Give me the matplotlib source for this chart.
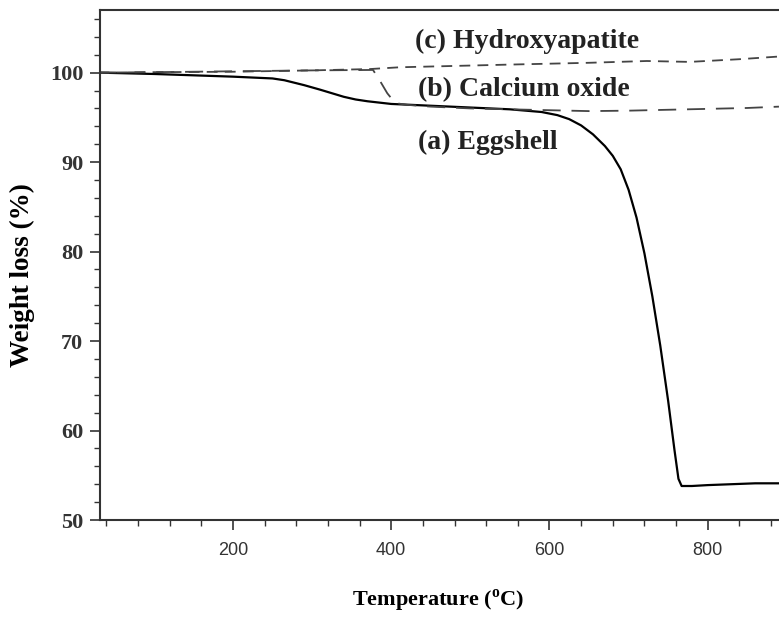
import matplotlib
matplotlib.use("Agg")
import matplotlib.pyplot as plt
from matplotlib.ticker import MultipleLocator, FixedLocator

plt.rcParams['mathtext.fontset'] = 'custom'
plt.rcParams['mathtext.rm'] = 'Liberation Serif:bold'
plt.rcParams['mathtext.bf'] = 'Liberation Serif:bold'

# TGA curves
egg_t = [30, 100, 150, 200, 250, 265, 290, 310, 325, 340, 355, 370, 400, 450, 500, 550,
         590, 610, 625, 640, 655, 670, 680, 690, 700, 710, 720, 730, 740, 750, 758, 763,
         767, 780, 800, 830, 860, 890]
egg_w = [100.0, 99.85, 99.7, 99.55, 99.35, 99.15, 98.6, 98.1, 97.7, 97.3, 97.0, 96.8,
         96.5, 96.3, 96.1, 95.9, 95.6, 95.25, 94.8, 94.1, 93.1, 91.8, 90.7, 89.2, 86.9,
         83.8, 79.8, 75.0, 69.5, 63.3, 57.8, 54.6, 53.8, 53.8, 53.9, 54.0, 54.1, 54.1]

cao_t = [30, 100, 200, 300, 377, 385, 395, 405, 420, 450, 500, 550, 600, 650, 700, 750,
         800, 850, 890]
cao_w = [100.0, 100.05, 100.15, 100.25, 100.3, 99.2, 97.7, 96.6, 96.4, 96.2, 96.0, 95.9,
         95.8, 95.7, 95.75, 95.85, 95.95, 96.05, 96.2]

hap_t = [30, 100, 200, 300, 373, 411, 550, 650, 723, 777, 840, 890]
hap_w = [100.0, 100.05, 100.1, 100.25, 100.4, 100.6, 100.9, 101.1, 101.3, 101.2, 101.5, 101.8]

labels = ["(c) Hydroxyapatite", "(b) Calcium oxide", "(a) Eggshell"]
label_t = [430, 434, 434]
label_w = [103.45, 98.05, 92.15]
xticks = [200, 400, 600, 800]

fig = plt.figure(figsize=(7.79, 6.19), dpi=100)
ax = fig.add_axes([100 / 779, 99 / 619, 766 / 779, 510 / 619])

ax.plot(egg_t, egg_w, color='black', lw=1.6)
ax.plot(cao_t, cao_w, color='#444444', lw=1.3, dashes=(10, 6))
ax.plot(hap_t, hap_w, color='#444444', lw=1.3, dashes=(6, 4))

for s, t, w in zip(labels, label_t, label_w):
    ax.text(t, w, s, family='Liberation Serif', fontweight='bold', fontsize=20,
            va='center', ha='left', color='#222222')

ax.set_xlim(32, 1000)
ax.set_ylim(50, 107)
ax.xaxis.set_major_locator(FixedLocator(xticks))
ax.xaxis.set_minor_locator(MultipleLocator(40))
ax.yaxis.set_major_locator(MultipleLocator(10))
ax.yaxis.set_minor_locator(MultipleLocator(2))
ax.tick_params(which='major', length=7, width=1.2, color='#333333', direction='out')
ax.tick_params(which='minor', length=4, width=1.0, color='#333333', direction='out')
ax.tick_params(axis='x', pad=9)
ax.tick_params(axis='y', pad=5)
for sp in ax.spines.values():
    sp.set_linewidth(1.5)
    sp.set_color('#333333')

for lb in ax.get_xticklabels():
    lb.set_family(['Liberation Sans Narrow', 'Liberation Sans'])
    lb.set_fontsize(13)
    lb.set_color('#333333')
for lb in ax.get_yticklabels():
    lb.set_family('Liberation Serif')
    lb.set_fontweight('bold')
    lb.set_fontsize(16)
    lb.set_color('#333333')

fig.text(438 / 779, 1 - 601 / 619, r'Temperature ($^{\mathbf{o}}$C)', family='Liberation Serif',
         fontweight='bold', fontsize=16, ha='center', va='center')
fig.text(22 / 779, 1 - 275 / 619, 'Weight loss (%)', family='Liberation Serif',
         fontweight='bold', fontsize=19.5, ha='center', va='center', rotation=90)

fig.savefig('out.png', dpi=100)
